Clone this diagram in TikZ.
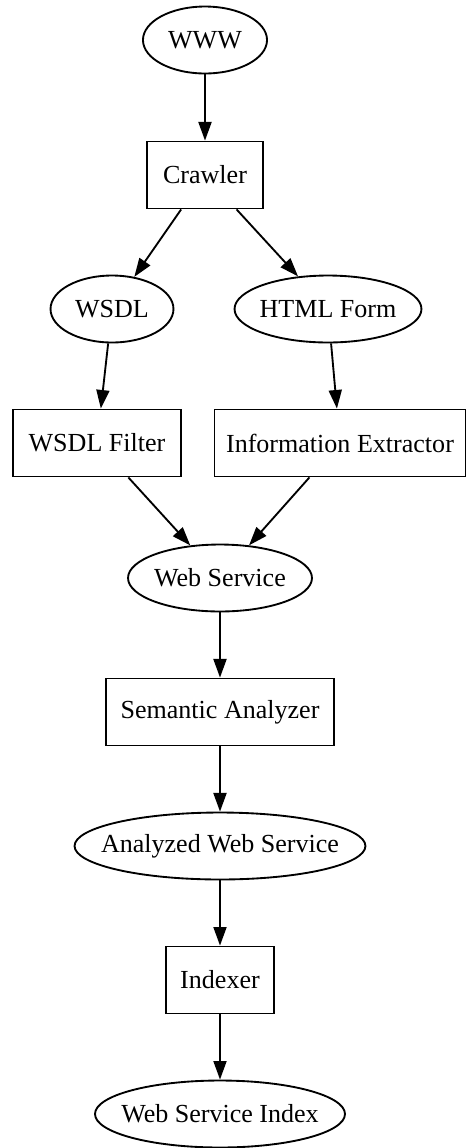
\documentclass[tikz,border=0pt]{standalone}
\usepackage{fontspec}
\setmainfont{Liberation Serif}
\usetikzlibrary{shapes.geometric,arrows.meta}
\newcommand{\ovaltext}[1]{\makebox[0pt]{#1}}
\begin{document}
\begin{tikzpicture}[x=0.5376pt,y=-0.5376pt,
  base/.style={draw,line width=1pt,inner sep=0pt,font=\fontsize{14}{16}\selectfont},
  oval/.style={base,ellipse,minimum height=36pt},
  box/.style={base,rectangle,minimum height=36pt},
  edge/.style={line width=1pt,-{Triangle[length=10pt,width=7pt]}}]
\useasboundingbox (0,0) rectangle (467,1148);
\node[oval,minimum width=66.7pt] (www) at (205,40) {\ovaltext{WWW}};
\node[box,minimum width=62.4pt] (crawler) at (205,175) {Crawler};
\node[oval,minimum width=66.1pt] (wsdl) at (112,309) {\ovaltext{WSDL}};
\node[oval,minimum width=100.5pt] (html) at (328,309) {\ovaltext{HTML Form}};
\node[box,minimum width=90.3pt] (wf) at (97,443) {WSDL Filter};
\node[box,minimum width=134.9pt] (ie) at (340,443) {Information Extractor};
\node[oval,minimum width=98.9pt] (ws) at (220,578) {\ovaltext{Web Service}};
\node[box,minimum width=122.6pt] (sa) at (220,712) {Semantic Analyzer};
\node[oval,minimum width=156.4pt] (aws) at (220,846) {\ovaltext{Analyzed Web Service}};
\node[box,minimum width=58.1pt] (idx) at (220,980) {Indexer};
\node[oval,minimum width=134.4pt] (wsi) at (220,1114) {\ovaltext{Web Service Index}};
\draw[edge] (www) -- (crawler);
\draw[edge] (crawler) -- (wsdl);
\draw[edge] (crawler) -- (html);
\draw[edge] (wsdl) -- (wf);
\draw[edge] (html) -- (ie);
\draw[edge] (wf) -- (ws);
\draw[edge] (ie) -- (ws);
\draw[edge] (ws) -- (sa);
\draw[edge] (sa) -- (aws);
\draw[edge] (aws) -- (idx);
\draw[edge] (idx) -- (wsi);
\end{tikzpicture}
\end{document}
